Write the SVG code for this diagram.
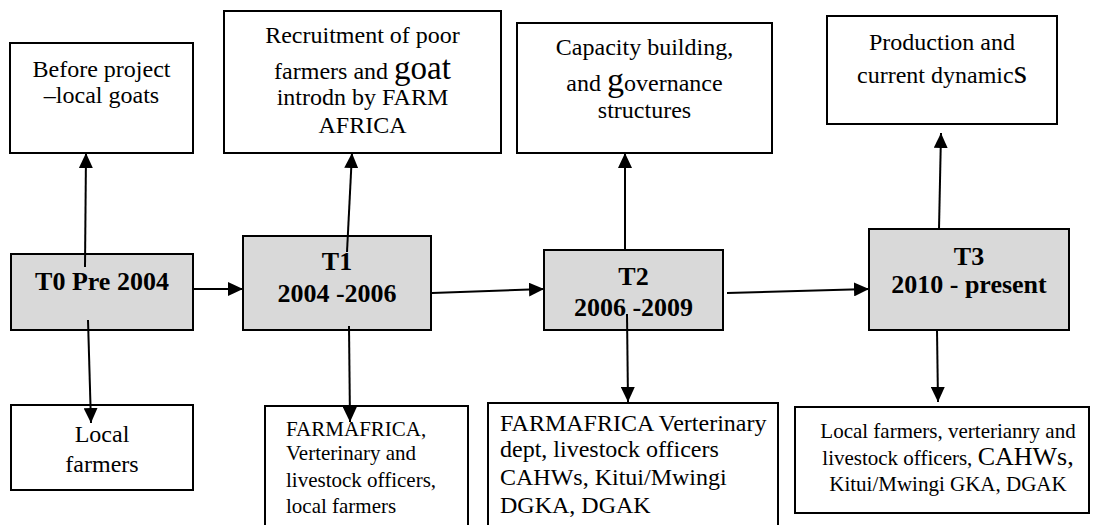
<svg xmlns="http://www.w3.org/2000/svg" width="1093" height="525" viewBox="0 0 1093 525">
  <style>
    .box { fill: #ffffff; stroke: #000000; stroke-width: 2; }
    .stage { fill: #d9d9d9; stroke: #000000; stroke-width: 2; }
    .t { font-family: "Liberation Serif", "Times New Roman", serif; font-size: 24px; fill: #000000; }
    .c { text-anchor: middle; }
    .b { font-weight: bold; font-size: 26px; }
    .sm { font-size: 21px; }
    .link { fill: none; stroke: #000000; stroke-width: 2; marker-end: url(#arrow); }
  </style>
  <defs>
    <marker id="arrow" markerUnits="userSpaceOnUse" markerWidth="15" markerHeight="14" refX="15" refY="7" orient="auto">
      <path d="M0,0 L15,7 L0,14 Z" fill="#000000"/>
    </marker>
  </defs>

  <!-- top row: outcomes of each stage -->
  <g id="before-project">
    <rect class="box" x="10" y="43" width="183" height="110"/>
    <text class="t c" x="101.5" y="77">Before project</text>
    <text class="t c" x="101.5" y="103">–local goats</text>
  </g>
  <g id="recruitment">
    <rect class="box" x="224" y="11" width="277" height="142"/>
    <text class="t c" x="362.5" y="43">Recruitment of poor</text>
    <text class="t c" x="362.5" y="79">farmers and <tspan font-size="33">goat</tspan></text>
    <text class="t c" x="362.5" y="105">introdn by FARM</text>
    <text class="t c" x="362.5" y="133">AFRICA</text>
  </g>
  <g id="capacity-building">
    <rect class="box" x="517" y="23" width="255" height="130"/>
    <text class="t c" x="644.5" y="55">Capacity building,</text>
    <text class="t c" x="644.5" y="91">and <tspan font-size="34">g</tspan>overnance</text>
    <text class="t c" x="644.5" y="118">structures</text>
  </g>
  <g id="production">
    <rect class="box" x="827" y="16" width="230" height="108"/>
    <text class="t c" x="942" y="50">Production and</text>
    <text class="t c" x="942" y="83">current dynamic<tspan font-size="34">s</tspan></text>
  </g>

  <!-- middle row: time periods -->
  <g id="t0">
    <rect class="stage" x="11" y="254" width="182" height="76"/>
    <text class="t c b" x="102" y="290" font-size="24">T0 Pre 2004</text>
  </g>
  <g id="t1">
    <rect class="stage" x="243" y="236" width="188" height="94"/>
    <text class="t c b" x="337" y="270">T1</text>
    <text class="t c b" x="337" y="302">2004 -2006</text>
  </g>
  <g id="t2">
    <rect class="stage" x="544" y="250" width="179" height="80"/>
    <text class="t c b" x="633.5" y="285">T2</text>
    <text class="t c b" x="633.5" y="316">2006 -2009</text>
  </g>
  <g id="t3">
    <rect class="stage" x="869" y="229" width="200" height="101"/>
    <text class="t c b" x="969" y="265">T3</text>
    <text class="t c b" x="969" y="293">2010 - present</text>
  </g>

  <!-- bottom row: actors involved -->
  <g id="local-farmers">
    <rect class="box" x="11" y="405" width="182" height="85"/>
    <text class="t c" x="102" y="442" font-size="26">Local</text>
    <text class="t c" x="102" y="472" font-size="26">farmers</text>
  </g>
  <g id="actors-t1">
    <rect class="box" x="265" y="406" width="203" height="130"/>
    <text class="t sm" x="286" y="436">FARMAFRICA,</text>
    <text class="t sm" x="286" y="460">Verterinary and</text>
    <text class="t sm" x="286" y="487">livestock officers,</text>
    <text class="t sm" x="286" y="513">local farmers</text>
  </g>
  <g id="actors-t2">
    <rect class="box" x="488" y="403" width="290" height="133"/>
    <text class="t" x="500" y="431" font-size="23">FARMAFRICA Verterinary</text>
    <text class="t" x="500" y="457" font-size="23">dept, livestock officers</text>
    <text class="t" x="500" y="485" font-size="25">CAHWs, Kitui/Mwingi</text>
    <text class="t" x="500" y="513" font-size="22">DGKA, DGAK</text>
  </g>
  <g id="actors-t3">
    <rect class="box" x="795" y="407" width="294" height="106"/>
    <text class="t c sm" x="948" y="438">Local farmers, verterianry and</text>
    <text class="t c sm" x="948" y="465">livestock officers, <tspan font-size="26">CAHWs,</tspan></text>
    <text class="t c sm" x="948" y="491">Kitui/Mwingi GKA, DGAK</text>
  </g>

  <!-- connectors -->
  <g id="connectors">
    <line class="link" x1="85" y1="267" x2="86" y2="153"/>
    <line class="link" x1="88" y1="320" x2="91" y2="423"/>
    <line class="link" x1="193" y1="289" x2="243" y2="289"/>
    <line class="link" x1="347" y1="252" x2="352" y2="153"/>
    <line class="link" x1="349" y1="326" x2="350" y2="422"/>
    <line class="link" x1="432" y1="293" x2="544" y2="289"/>
    <line class="link" x1="625" y1="250" x2="625" y2="153"/>
    <line class="link" x1="627" y1="314" x2="628" y2="402"/>
    <line class="link" x1="727" y1="293" x2="869" y2="289"/>
    <line class="link" x1="939" y1="229" x2="941" y2="133"/>
    <line class="link" x1="937" y1="330" x2="938" y2="402"/>
  </g>
</svg>
